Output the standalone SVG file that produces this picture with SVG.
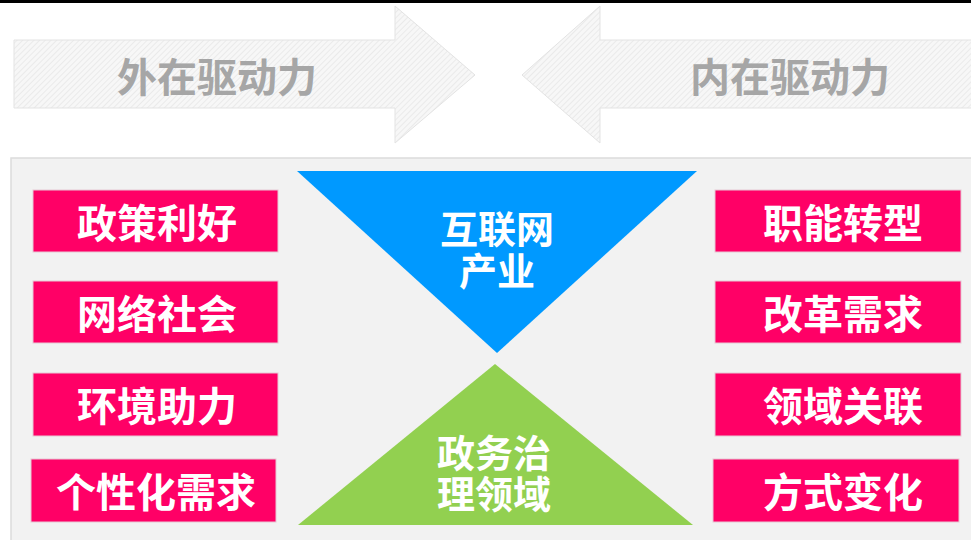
<svg xmlns="http://www.w3.org/2000/svg" width="971" height="540" viewBox="0 0 971 540">
<defs>
<pattern id="hatch" width="4" height="4" patternUnits="userSpaceOnUse" patternTransform="rotate(45)">
<rect width="4" height="4" fill="#f7f7f7"/>
<line x1="0" y1="0" x2="0" y2="4" stroke="#e6e6e6" stroke-width="1.5"/>
</pattern>
<style>
.arrow{fill:url(#hatch);stroke:#e3e3e3;stroke-width:1}
.atext{font-family:"Noto Sans CJK SC","Noto Sans",sans-serif;font-weight:bold;font-size:40px;fill:#a6a6a6;text-anchor:middle;dominant-baseline:central}
.box{fill:#ff0066;stroke:#e6c8d4;stroke-width:1}
.btext{font-family:"Noto Sans CJK SC","Noto Sans",sans-serif;font-weight:bold;font-size:40px;fill:#ffffff;text-anchor:middle;dominant-baseline:central}
.ttext{font-family:"Noto Sans CJK SC","Noto Sans",sans-serif;font-weight:bold;font-size:38px;fill:#ffffff;text-anchor:middle;dominant-baseline:central}
</style>
</defs>
<rect width="971" height="540" fill="#ffffff"/>
<rect x="0" y="0" width="971" height="3" fill="#000000"/>
<g id="arrow-left">
<path class="arrow" d="M14,40 H395 V6 L475,75 L395,143 V108 H14 Z"/>
<text class="atext" x="217" y="75">外在驱动力</text>
</g>
<g id="arrow-right">
<path class="arrow" d="M971,40 H600 V6 L522,75 L600,143 V108 H971"/>
<text class="atext" x="790" y="75">内在驱动力</text>
</g>
<rect id="panel" x="11" y="158" width="962" height="384" fill="#f2f2f2" stroke="#dcdcdc" stroke-width="1.5"/>
<g id="tri-internet">
<polygon points="297,171 697,171 497,353" fill="#0099ff"/>
<text class="ttext" x="497" y="226">互联网</text>
<text class="ttext" x="497" y="268">产业</text>
</g>
<g id="tri-gov">
<polygon points="495,364 693,525 298,525" fill="#92d050"/>
<text class="ttext" x="494" y="450">政务治</text>
<text class="ttext" x="494" y="491">理领域</text>
</g>
<g id="l1"><rect class="box" x="33" y="190" width="245" height="62"/><text class="btext" x="157" y="221">政策利好</text></g>
<g id="l2"><rect class="box" x="33" y="281" width="245" height="62"/><text class="btext" x="157" y="312">网络社会</text></g>
<g id="l3"><rect class="box" x="33" y="373" width="245" height="63"/><text class="btext" x="157" y="404">环境助力</text></g>
<g id="l4"><rect class="box" x="31" y="459" width="245" height="63"/><text class="btext" x="156" y="490">个性化需求</text></g>
<g id="r1"><rect class="box" x="715" y="190" width="246" height="62"/><text class="btext" x="843" y="221">职能转型</text></g>
<g id="r2"><rect class="box" x="715" y="281" width="246" height="62"/><text class="btext" x="843" y="312">改革需求</text></g>
<g id="r3"><rect class="box" x="715" y="373" width="246" height="63"/><text class="btext" x="843" y="404">领域关联</text></g>
<g id="r4"><rect class="box" x="713" y="459" width="246" height="63"/><text class="btext" x="843" y="490">方式变化</text></g>
<g id="connectors"></g>
</svg>
